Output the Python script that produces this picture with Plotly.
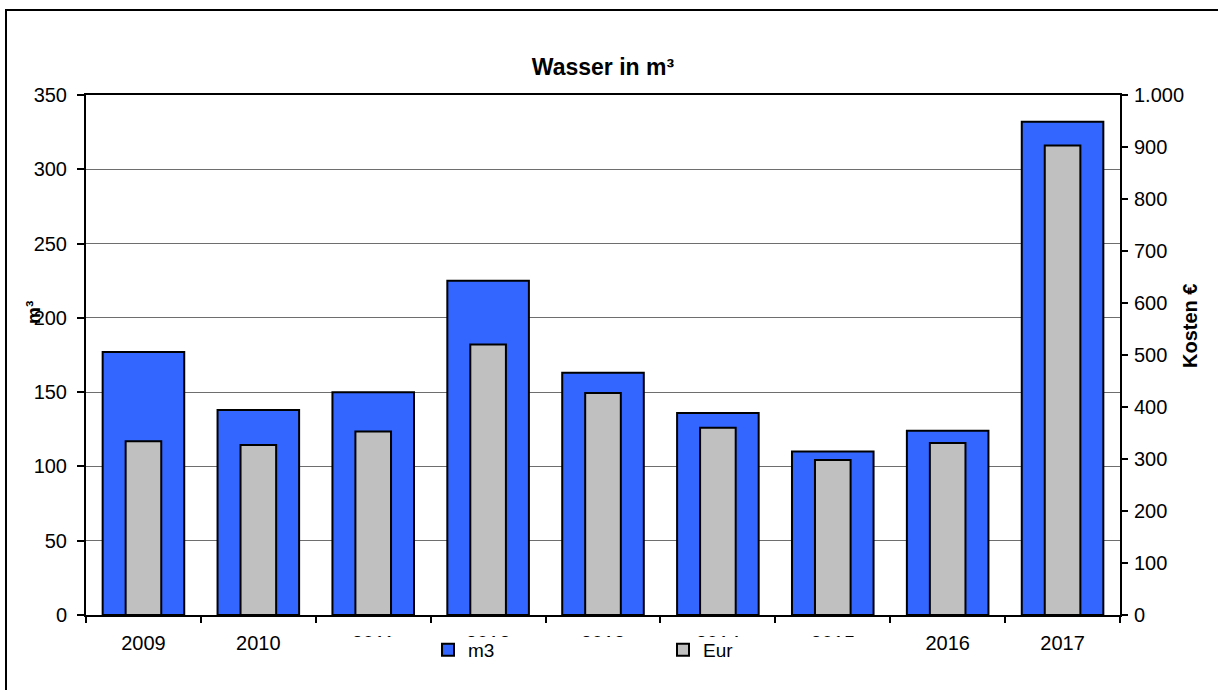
import plotly.graph_objects as go

years = ["2009", "2010", "2011", "2012", "2013", "2014", "2015", "2016", "2017"]
m3 = [177, 138, 150, 225, 163, 136, 110, 124, 332]
eur = [334, 327, 353, 520, 427, 360, 298, 331, 903]

FONT = "Liberation Sans, Arial, sans-serif"

# plot area geometry (pixels)
W, H = 1218, 690
L, R, T, B = 86, 98, 95, 75
PW, PH = W - L - R, H - T - B

def px(x):
    return (x - L) / PW

def py(y):
    return (H - B - y) / PH

fig = go.Figure()
fig.add_trace(go.Bar(
    x=years, y=m3, name="m3", width=0.71,
    marker=dict(color="#3366FF", line=dict(color="black", width=2)),
    yaxis="y",
))
fig.add_trace(go.Bar(
    x=years, y=eur, name="Eur", width=0.31,
    marker=dict(color="#C0C0C0", line=dict(color="black", width=2)),
    yaxis="y2",
))

fig.update_layout(
    width=W, height=H,
    margin=dict(l=L, r=R, t=T, b=B, pad=0),
    paper_bgcolor="white", plot_bgcolor="white",
    barmode="overlay",
    separators=",.",
    font=dict(family=FONT, size=20, color="black"),
    title=dict(text="<b>Wasser in m³</b>", x=0.5, xref="paper", xanchor="center",
               y=1 - 67 / H, yanchor="middle", font=dict(size=23, family=FONT)),
    xaxis=dict(
        type="category", tickson="boundaries", ticks="outside", ticklen=6,
        tickwidth=2, tickcolor="black", showline=True, linecolor="black",
        linewidth=2, mirror=True, showgrid=False, ticklabelstandoff=9,
        tickfont=dict(size=20),
    ),
    yaxis=dict(
        range=[0, 350], dtick=50, ticks="outside", ticklen=7, tickwidth=2,
        tickcolor="black", showline=True, linecolor="black", linewidth=2,
        showgrid=True, gridcolor="#6E6E6E", gridwidth=1, zeroline=False,
        tickfont=dict(size=20), ticklabelstandoff=6,
    ),
    yaxis2=dict(
        range=[0, 1000], dtick=100, tickformat=",d", overlaying="y", side="right",
        ticks="outside", ticklen=6, tickwidth=2, tickcolor="black",
        showline=True, linecolor="black", linewidth=2, showgrid=False,
        zeroline=False, tickfont=dict(size=20), ticklabelstandoff=2,
    ),
    legend=dict(
        orientation="h", x=px(428), xanchor="left", y=py(650), yanchor="middle",
        bgcolor="rgba(0,0,0,0)", font=dict(size=19), entrywidth=190,
        itemwidth=30, traceorder="normal",
    ),
    showlegend=True,
    annotations=[
        dict(text="<b>m³</b>", textangle=-90, x=px(33), y=py(313),
             xref="paper", yref="paper", xanchor="center", yanchor="middle",
             showarrow=False, font=dict(size=19, family=FONT)),
        dict(text="<b>Kosten €</b>", textangle=-90, x=px(1190), y=py(326),
             xref="paper", yref="paper", xanchor="center", yanchor="middle",
             showarrow=False, font=dict(size=20, family=FONT)),
    ],
    shapes=[
        # white legend box covering part of the category labels
        dict(type="rect", xref="paper", yref="paper", layer="above",
             x0=px(347), x1=px(905), y0=py(684), y1=py(637),
             fillcolor="white", line=dict(width=0)),
        # outer chart border
        dict(type="rect", xref="paper", yref="paper", layer="above",
             x0=px(6), x1=px(1230), y0=py(705), y1=py(10),
             fillcolor="rgba(0,0,0,0)", line=dict(color="black", width=2)),
    ],
)

fig.write_html("out.html", config={"displayModeBar": False},
               post_script="document.body.style.margin='0';")
